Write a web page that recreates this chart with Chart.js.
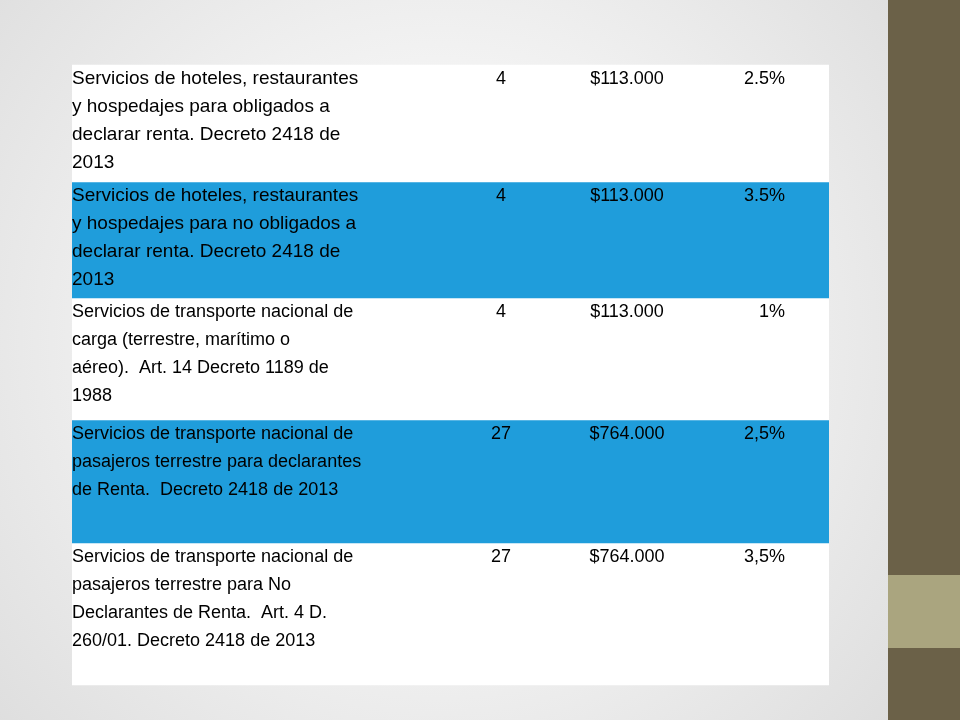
<!DOCTYPE html>
<html><head><meta charset="utf-8">
<script src="https://cdn.jsdelivr.net/npm/chart.js@4"></script>
<style>html,body{margin:0;padding:0;background:#fff}canvas{display:block}</style>
</head><body>
<div style="width:960px;height:720px"><canvas id="c" width="960" height="720"></canvas></div>
<script>
const descriptions = [
  ["Servicios de hoteles, restaurantes","y hospedajes para obligados a","declarar renta. Decreto 2418 de","2013"],
  ["Servicios de hoteles, restaurantes","y hospedajes para no obligados a","declarar renta. Decreto 2418 de","2013"],
  ["Servicios de transporte nacional de","carga (terrestre, marítimo o","aéreo).  Art. 14 Decreto 1189 de","1988"],
  ["Servicios de transporte nacional de","pasajeros terrestre para declarantes","de Renta.  Decreto 2418 de 2013"],
  ["Servicios de transporte nacional de","pasajeros terrestre para No","Declarantes de Renta.  Art. 4 D.","260/01. Decreto 2418 de 2013"]
];
const uvt = ["4","4","4","27","27"];
const amounts = ["$113.000","$113.000","$113.000","$764.000","$764.000"];
const rates = ["2.5%","3.5%","1%","2,5%","3,5%"];
const rowTops = [65,182,298,420,543];
const rowBottoms = [182,298,420,543,685];
const rowColors = ["#ffffff","#1f9ddb","#ffffff","#1f9ddb","#ffffff"];
const fontSizes = [19,19,18,18,18];

const bgPlugin = {
  id:'bg',
  beforeDraw(ch){
    const c = ch.ctx;
    const g = c.createRadialGradient(440,340,80,440,340,620);
    g.addColorStop(0,'#ffffff'); g.addColorStop(1,'#dcdcdc');
    c.save(); c.fillStyle=g; c.fillRect(0,0,960,720);
    c.fillStyle='#6b6148'; c.fillRect(888,0,72,720);
    c.fillStyle='#aaa57f'; c.fillRect(888,575,72,73);
    c.restore();
  }
};
const textPlugin = {
  id:'txt',
  afterDraw(ch){
    const c = ch.ctx, y = ch.scales.y;
    c.save(); c.fillStyle='#000'; c.textBaseline='middle';
    descriptions.forEach((lines,i)=>{
      const y0 = y.getPixelForValue(rowTops[i]) + 14;
      c.font = fontSizes[i] + 'px "Liberation Sans", Arial, sans-serif';
      c.textAlign='left';
      lines.forEach((t,k)=>c.fillText(t,72,y0+k*28));
      c.font='18px "Liberation Sans", Arial, sans-serif';
      c.textAlign='center'; c.fillText(uvt[i],501,y0);
      c.fillText(amounts[i],627,y0);
      c.textAlign='right'; c.fillText(rates[i],785,y0);
    });
    c.restore();
  }
};
new Chart(document.getElementById('c'),{
  type:'bar',
  data:{labels:['t'],datasets:rowTops.map((t,i)=>({data:[[t,rowBottoms[i]]],backgroundColor:rowColors[i],grouped:false,barPercentage:1,categoryPercentage:1,borderWidth:0}))},
  options:{responsive:false,animation:false,
    layout:{padding:{left:72,right:131,top:0,bottom:0}},
    plugins:{legend:{display:false},tooltip:{enabled:false}},
    scales:{x:{display:false},y:{display:false,min:0,max:720,reverse:true}}},
  plugins:[bgPlugin,textPlugin]
});
</script></body></html>
